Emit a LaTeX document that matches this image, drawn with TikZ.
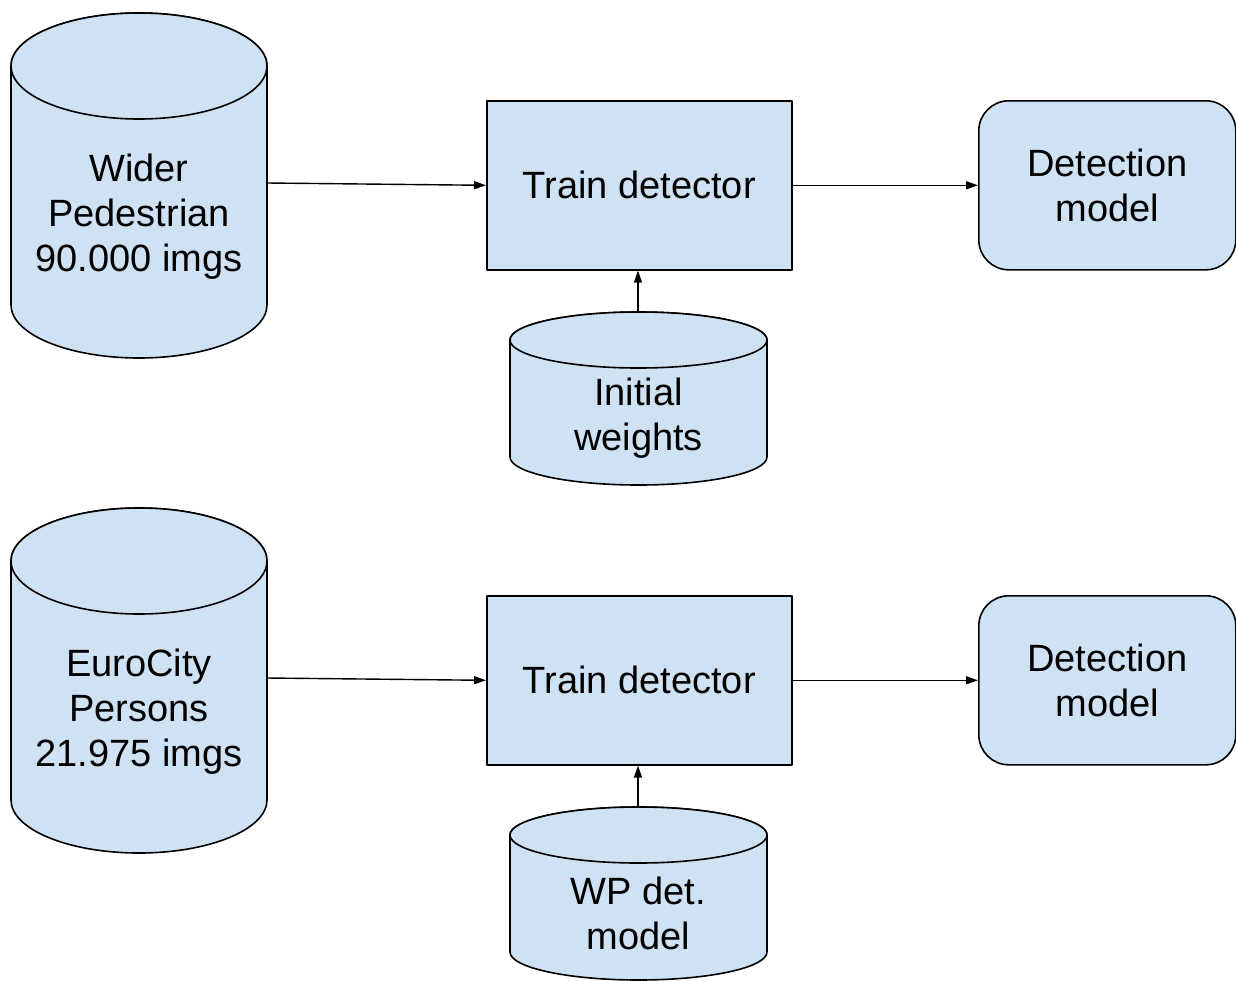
\documentclass[tikz,border=0pt]{standalone}
\usepackage{fontspec}
\setmainfont{Liberation Sans}
\usetikzlibrary{arrows.meta}

\definecolor{boxblue}{HTML}{CFE2F3}

% database drum: centre x, top-ellipse centre y, bottom-ellipse centre y, x radius, y radius
\newcommand{\dbshape}[5]{%
  \filldraw[shapeline] (#1-#4,-#2) -- (#1-#4,-#3)
    arc[start angle=180, end angle=360, x radius=#4, y radius=#5]
    -- (#1+#4,-#2)
    arc[start angle=0, end angle=180, x radius=#4, y radius=#5] -- cycle;
  \filldraw[shapeline] (#1,-#2) ellipse[x radius=#4, y radius=#5];
}

\tikzset{
  shapeline/.style={draw=black, fill=boxblue, line width=1.6pt, line join=round},
  label text/.style={font=\fontsize{38}{45}\selectfont, align=center, inner sep=0pt},
  stepbox/.style={shapeline, label text, rectangle, minimum width=305pt, minimum height=169pt, anchor=north west},
  modelbox/.style={shapeline, label text, rectangle, rounded corners=30pt, minimum width=257pt, minimum height=169pt, anchor=north west},
  dbtext/.style={label text, rectangle, minimum width=256pt},
  flow/.style={draw=black, line width=1.4pt, -{Triangle[length=12pt, width=8pt]}},
}

\begin{document}
\begin{tikzpicture}[x=1pt, y=1pt]
  \useasboundingbox[fill=white] (0,0) rectangle (1236,-980);

  % upper row
  \dbshape{139}{66}{305}{128}{53}
  \node[dbtext, minimum height=186pt] (widerped) at (139,-217) {Wider\\Pedestrian\\90.000 imgs};
  \node[stepbox] (train1) at (486,-100) {Train detector};
  \node[modelbox] (detect1) at (978,-100) {Detection\\model};
  \dbshape{638.5}{340}{457}{128.5}{28}
  \node[dbtext, minimum width=257pt, minimum height=89pt] (initw) at (638.5,-418) {Initial\\weights};
  \coordinate (initwtop) at (638,-312);

  % lower row
  \dbshape{139}{561}{800}{128}{53}
  \node[dbtext, minimum height=186pt] (eurocity) at (139,-712) {EuroCity\\Persons\\21.975 imgs};
  \node[stepbox] (train2) at (486,-595) {Train detector};
  \node[modelbox] (detect2) at (978,-595) {Detection\\model};
  \dbshape{638.5}{835}{952}{128.5}{28}
  \node[dbtext, minimum width=257pt, minimum height=89pt] (wpdet) at (638.5,-913) {WP det.\\model};
  \coordinate (wpdettop) at (638,-807);

  % connectors
  \coordinate (widerout) at (267,-183);
  \coordinate (euroout) at (267,-678);
  \draw[flow] (widerout) -- (train1.west);
  \draw[flow] (train1.east) -- (detect1.west);
  \draw[flow] (initwtop) -- (initwtop |- train1.south);
  \draw[flow] (euroout) -- (train2.west);
  \draw[flow] (train2.east) -- (detect2.west);
  \draw[flow] (wpdettop) -- (wpdettop |- train2.south);
\end{tikzpicture}
\end{document}
